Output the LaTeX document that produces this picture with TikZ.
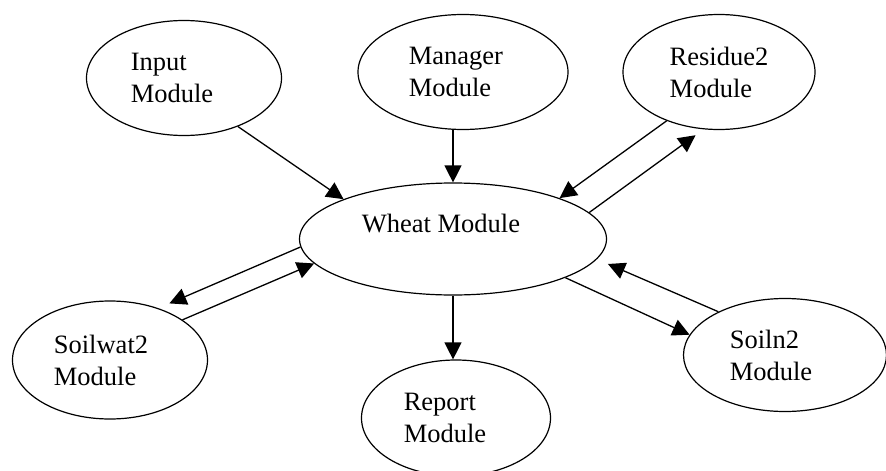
\documentclass[tikz,border=0pt]{standalone}
\usepackage{fontspec}
\setmainfont{Liberation Serif}
\usetikzlibrary{arrows.meta,shapes.geometric}

\begin{document}
\begin{tikzpicture}[x=1pt,y=-1pt,
        modulo/.style={draw, ellipse, line width=1.2pt, inner sep=0pt, align=left,
            font=\fontsize{26.5}{32}\selectfont},
        freccia/.style={line width=1.3pt, -{Triangle[length=17pt,width=17pt]}}]
        \useasboundingbox (0,0) rectangle (886,471);

        % Disegna i moduli
        \node[modulo, minimum width=195pt, minimum height=115pt] (input) at (184,78) {Input\\Module\hspace*{24pt}};
        \node[modulo, minimum width=210pt, minimum height=115pt] (manager) at (463,72) {Manager\\Module\hspace*{26pt}};
        \node[modulo, minimum width=192pt, minimum height=115pt] (residue) at (719,72) {Residue2\\Module\hspace*{8pt}};
        \node[modulo, minimum width=307pt, minimum height=112pt] (wheat) at (453,239) {Wheat Module\hspace*{24pt}\\\mbox{}};
        \node[modulo, minimum width=195pt, minimum height=118pt] (soilwat) at (110,360) {Soilwat2\hspace*{18pt}\\Module};
        \node[modulo, minimum width=189pt, minimum height=116pt] (report) at (456,418) {Report\\Module\hspace*{22pt}};
        \node[modulo, minimum width=203pt, minimum height=113pt] (soiln) at (785,355) {Soiln2\\Module\hspace*{28pt}};

        % Frecce verso il modulo centrale
        \draw[freccia] (input.-42) -- (wheat.160);
        \draw[freccia] (manager.south -| wheat.north) -- (wheat.north);
        \draw[freccia] (residue.-137) -- (wheat.21);
        \draw[freccia] (soilwat.29) -- (wheat.190);
        \draw[freccia, shorten >=12pt] (soiln.147) -- (wheat.-8);

        % Frecce in uscita
        \draw[freccia, shorten >=10pt] (wheat.11) -- (residue.-105);
        \draw[freccia, shorten >=12pt] (wheat.183) -- (soilwat.47);
        \draw[freccia] (wheat.south) -- (wheat.south |- report.north);
        \draw[freccia] (wheat.-19) -- (soiln.168);
    \end{tikzpicture}
\end{document}
